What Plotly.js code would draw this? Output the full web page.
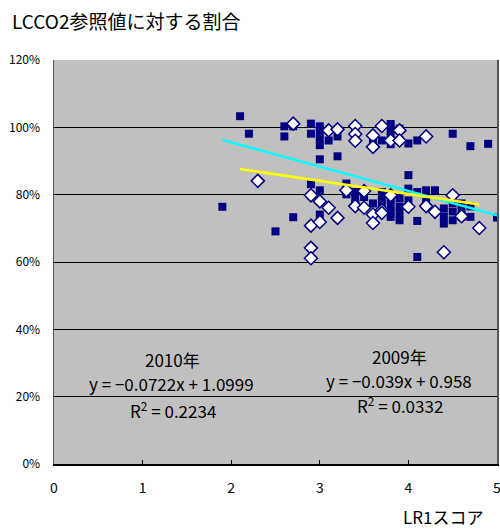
<!DOCTYPE html>
<html><head><meta charset="utf-8">
<script src="https://cdn.plot.ly/plotly-3.0.1.min.js"></script>
<style>html,body{margin:0;padding:0;background:#fff;}#chart{width:500px;height:529px;}</style>
</head><body><div id="chart"></div>
<script>
// 2010 series (filled squares): LR1 score, % of LCCO2 reference
const x2010 = [1.9,2.1,2.2,2.5,2.6,2.6,2.7,2.7,2.9,2.9,2.9,3.0,3.0,3.0,3.0,3.0,3.0,3.0,3.1,3.2,3.2,3.3,3.3,3.4,3.4,3.4,3.4,3.4,3.5,3.6,3.6,3.7,3.7,3.7,3.7,3.7,3.8,3.8,3.8,3.8,3.8,3.8,3.8,3.8,3.9,3.9,3.9,3.9,3.9,3.9,4.0,4.0,4.0,4.0,4.1,4.1,4.1,4.1,4.2,4.2,4.3,4.4,4.4,4.4,4.5,4.5,4.5,4.5,4.5,4.6,4.6,4.6,4.7,4.7,4.7,4.9,5.0];
const y2010 = [76.4,103.3,98.1,69.1,100.3,97.3,100.3,73.3,101.1,98.1,83.1,100.3,98.5,96.5,94.7,90.5,81.3,74.1,96.1,97.3,91.4,83.3,80.1,98.5,96.5,80.8,79.0,77.3,79.3,95.6,77.4,96.1,80.8,78.5,76.5,74.9,101.0,99.0,97.0,95.0,79.0,77.0,75.0,73.4,99.6,96.1,79.0,76.5,74.5,72.4,95.2,85.8,81.8,78.3,96.1,80.8,72.2,61.5,81.3,77.8,81.3,75.9,73.5,71.4,98.1,79.8,77.5,75.0,72.4,77.4,75.2,73.4,94.4,76.5,73.4,95.1,73.2];
// 2009 series (open diamonds)
const x2009 = [2.3,2.7,2.9,2.9,2.9,2.9,3.0,3.0,3.1,3.1,3.2,3.2,3.3,3.4,3.4,3.4,3.4,3.5,3.5,3.6,3.6,3.6,3.6,3.7,3.7,3.7,3.8,3.8,3.9,3.9,4.0,4.2,4.2,4.3,4.4,4.5,4.6,4.8];
const y2009 = [84.1,101.1,79.8,70.8,64.2,61.1,78.0,71.9,99.1,76.1,99.4,73.1,81.3,100.4,98.0,96.0,76.6,81.1,76.1,97.6,94.2,74.1,71.6,100.4,75.4,74.6,96.1,79.8,99.1,96.1,76.4,97.3,76.6,74.9,62.9,79.8,73.6,70.1];
// Trend lines (Excel linear fits shown on chart)
const trendSlope = [-0.0722, -0.039];
const trendIntercept = [1.0999, 0.958];
const trendXRange2010 = [1.9, 5.0];
const trendXRange2009 = [2.1, 4.8];
const xTicks = [0,1,2,3,4,5];
const yTicks = [0,20,40,60,80,100,120];
const yTickText = ['0%','20%','40%','60%','80%','100%','120%'];

const lineY = (xs, i) => xs.map(x => (trendSlope[i]*x + trendIntercept[i])*100);
const F = '"Noto Sans CJK JP", "Noto Sans", sans-serif';

const traces = [
  {x: x2010, y: y2010, type:'scatter', mode:'markers', name:'2010年',
   marker:{symbol:'square', size:8, color:'#000080', line:{width:0}}},
  {x: x2009, y: y2009, type:'scatter', mode:'markers', name:'2009年',
   marker:{symbol:'diamond', size:10, color:'#ffffff', line:{width:1.5, color:'#000080'}}},
  {x: trendXRange2010, y: lineY(trendXRange2010,0), type:'scatter', mode:'lines',
   line:{color:'#00ffff', width:2.5}, name:'trend2010'},
  {x: trendXRange2009, y: lineY(trendXRange2009,1), type:'scatter', mode:'lines',
   line:{color:'#ffff00', width:2.5}, name:'trend2009'}
];

const ann = (x,y,t) => ({x:x, y:y, xref:'x', yref:'y', text:t, showarrow:false,
  font:{family:F, size:17, color:'#000'}, xanchor:'center', yanchor:'middle'});

const layout = {
  width:500, height:529,
  margin:{l:54, r:3, t:60, b:65},
  paper_bgcolor:'#ffffff', plot_bgcolor:'#c0c0c0',
  showlegend:false,
  font:{family:F, size:12, color:'#000'},
  title:{text:'LCCO2参照値に対する割合', x:0.024, xanchor:'left', y:0.958, yanchor:'middle',
         font:{family:F, size:19, color:'#000'}},
  xaxis:{range:[0,5], tickvals:xTicks, ticks:'inside', ticklen:4, tickcolor:'#000',
         showgrid:false, zeroline:false, showline:true, linecolor:'#000', linewidth:1.5,
         mirror:false, tickfont:{family:F, size:14}, ticklabelstandoff:11,
         ticklabeloverflow:'allow', fixedrange:true},
  yaxis:{range:[0,120], tickvals:yTicks, ticktext:yTickText, ticks:'',
         showgrid:true, gridcolor:'#000', gridwidth:1, zeroline:false,
         showline:true, linecolor:'#555', linewidth:1.5, mirror:true,
         tickfont:{family:F, size:12}, ticklabelstandoff:10, fixedrange:true},
  annotations:[
    ann(1.34,30.9,'2010年'),
    ann(1.33,24.0,'y = −0.0722x + 1.0999'),
    ann(1.34,16.0,'R<sup>2</sup> = 0.2234'),
    ann(3.90,31.8,'2009年'),
    ann(3.89,24.9,'y = −0.039x + 0.958'),
    ann(3.90,17.5,'R<sup>2</sup> = 0.0332'),
    {x:(443-54)/443, y:-(516-464)/404, xref:'paper', yref:'paper', text:'LR1スコア', showarrow:false,
     xanchor:'center', yanchor:'middle', font:{family:F, size:17, color:'#000'}}
  ]
};

Plotly.newPlot('chart', traces, layout, {displayModeBar:false, staticPlot:true});
</script></body></html>
